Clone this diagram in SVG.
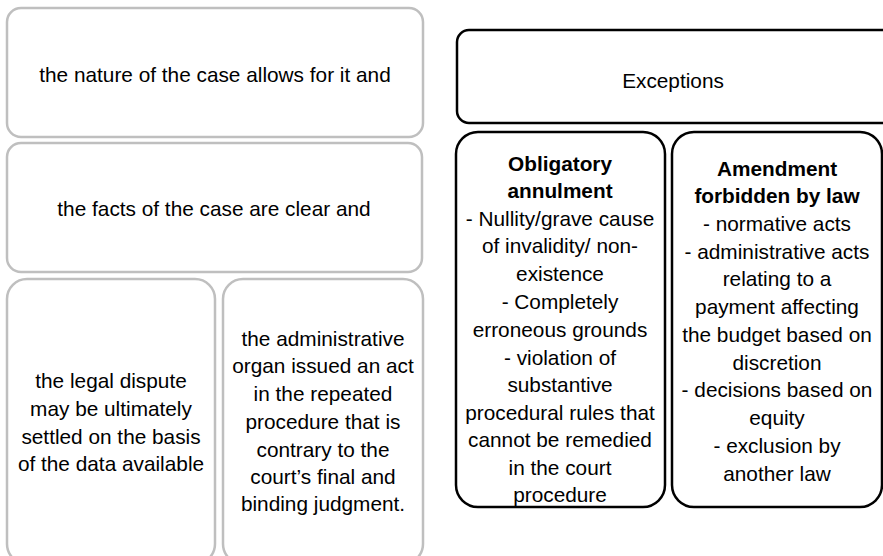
<svg xmlns="http://www.w3.org/2000/svg" width="883" height="556" viewBox="0 0 883 556">
<style>
.g{fill:#fff;stroke:#bfbfbf;stroke-width:2.5}
.b{fill:#fff;stroke:#000;stroke-width:2.5}
text{font-family:"Liberation Sans",Arial,sans-serif;font-size:20.8px;fill:#000;text-anchor:middle;dominant-baseline:central}
.bold{font-weight:bold}
</style>
<rect width="883" height="556" fill="#fff"/>
<g id="n1">
<rect class="g" x="7" y="8" width="416" height="129" rx="14"/>
<text x="215" y="74">the nature of the case allows for it and</text>
</g>
<g id="n2">
<rect class="g" x="7" y="143" width="415" height="129" rx="14"/>
<text x="214" y="208">the facts of the case are clear and</text>
</g>
<g id="n3">
<rect class="g" x="7" y="279" width="208" height="285" rx="20"/>
<text x="111" y="380">the legal dispute</text>
<text x="111" y="408">may be ultimately</text>
<text x="111" y="436">settled on the basis</text>
<text x="111" y="463">of the data available</text>
</g>
<g id="n4">
<rect class="g" x="223" y="279" width="200" height="285" rx="20"/>
<text x="323" y="338">the administrative</text>
<text x="323" y="365">organ issued an act</text>
<text x="323" y="393">in the repeated</text>
<text x="323" y="421">procedure that is</text>
<text x="323" y="449">contrary to the</text>
<text x="323" y="476">court’s final and</text>
<text x="323" y="503">binding judgment.</text>
</g>
<g id="n5">
<rect class="b" x="457" y="30" width="440" height="93" rx="12"/>
<text x="673" y="80">Exceptions</text>
</g>
<g id="n6">
<rect class="b" x="456" y="132" width="209" height="375" rx="22"/>
<text class="bold" x="560" y="163">Obligatory</text>
<text class="bold" x="560" y="190">annulment</text>
<text x="560" y="218">- Nullity/grave cause</text>
<text x="560" y="245">of invalidity/ non-</text>
<text x="560" y="273">existence</text>
<text x="560" y="301">- Completely</text>
<text x="560" y="329">erroneous grounds</text>
<text x="560" y="357">- violation of</text>
<text x="560" y="384">substantive</text>
<text x="560" y="412">procedural rules that</text>
<text x="560" y="439">cannot be remedied</text>
<text x="560" y="467">in the court</text>
<text x="560" y="494">procedure</text>
</g>
<g id="n7">
<rect class="b" x="672" y="132" width="210" height="375" rx="22"/>
<text class="bold" x="777" y="168">Amendment</text>
<text class="bold" x="777" y="195">forbidden by law</text>
<text x="777" y="223">- normative acts</text>
<text x="777" y="251">- administrative acts</text>
<text x="777" y="278">relating to a</text>
<text x="777" y="306">payment affecting</text>
<text x="777" y="334">the budget based on</text>
<text x="777" y="362">discretion</text>
<text x="777" y="389">- decisions based on</text>
<text x="777" y="417">equity</text>
<text x="777" y="445">- exclusion by</text>
<text x="777" y="473">another law</text>
</g>
<g id="connectors"></g>
</svg>
